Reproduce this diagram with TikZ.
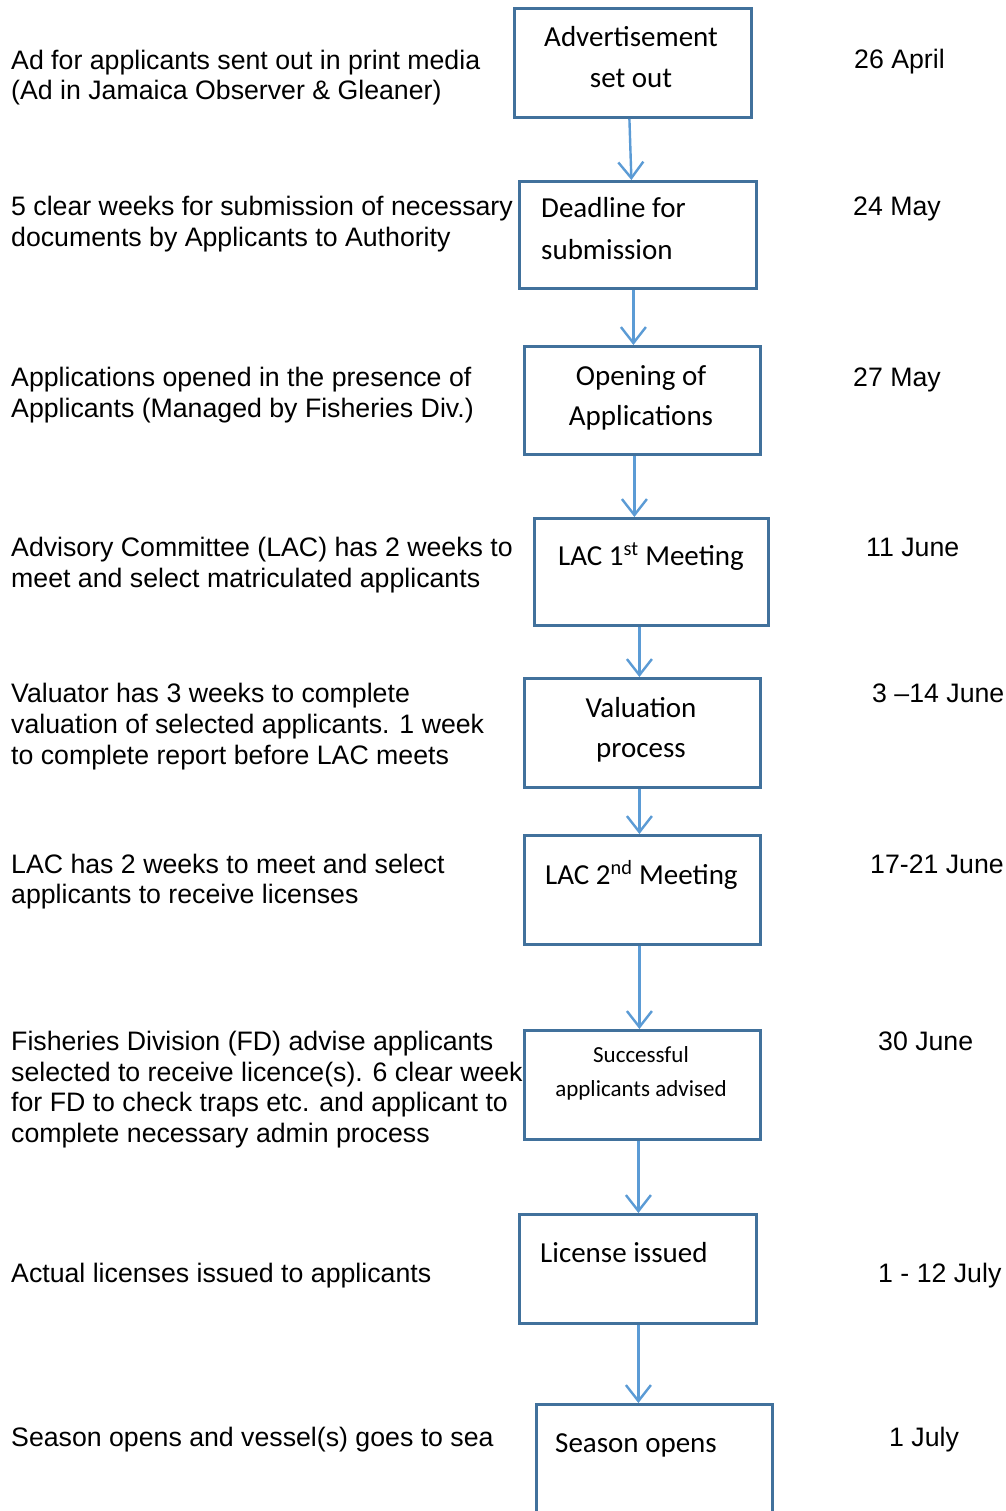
\documentclass[tikz,border=0pt]{standalone}
\usepackage{fontspec}
\setmainfont{Liberation Sans}
\newfontfamily\calibri{Carlito}
\usetikzlibrary{arrows.meta}
\definecolor{boxblue}{HTML}{41719C}
\definecolor{arrowblue}{HTML}{5B9BD5}
\begin{document}
\begin{tikzpicture}[x=1pt,y=-1pt,
  note/.style={anchor=base west,inner sep=0pt,font=\fontsize{26.7}{31}\selectfont},
  ctxt/.style={anchor=base,inner sep=0pt,font=\calibri\fontsize{29}{35}\selectfont},
  ltxt/.style={anchor=base west,inner sep=0pt,font=\calibri\fontsize{29}{35}\selectfont},
  stxt/.style={anchor=base,inner sep=0pt,font=\calibri\fontsize{23}{27}\selectfont},
  box/.style={draw=boxblue,line width=2.8pt,fill=white,inner sep=0pt,anchor=north west},
  flow/.style={draw=arrowblue,line width=2.4pt,-{Straight Barb[length=16pt,width=25pt,line width=2.4pt]}}]
\clip (0,0) rectangle (1005,1511);
\fill[white] (0,0) rectangle (1005,1511);

% left notes
\node[note] (n1a) at (11,70) {Ad for applicants sent out in print media};
\node[note] (n1b) at (11,100) {(Ad in Jamaica Observer \& Gleaner)};
\node[note] (n2a) at (11,216) {5 clear weeks for submission of necessary};
\node[note] (n2b) at (11,247) {documents by Applicants to Authority};
\node[note] (n3a) at (11,386) {Applications opened in the presence of};
\node[note] (n3b) at (11,417) {Applicants (Managed by Fisheries Div.)};
\node[note] (n4a) at (11,556) {Advisory Committee (LAC) has 2 weeks to};
\node[note] (n4b) at (11,587) {meet and select matriculated applicants};
\node[note] (n5a) at (11,702) {Valuator has 3 weeks to complete};
\node[note] (n5b) at (11,733) {valuation of selected applicants. 1 week};
\node[note] (n5c) at (11,764) {to complete report before LAC meets};
\node[note] (n6a) at (11,873) {LAC has 2 weeks to meet and select};
\node[note] (n6b) at (11,903) {applicants to receive licenses};
\node[note] (n7a) at (11,1050) {Fisheries Division (FD) advise applicants};
\node[note] (n7b) at (11,1081) {selected to receive licence(s). 6 clear weeks};
\node[note] (n7c) at (11,1111) {for FD to check traps etc. and applicant to};
\node[note] (n7d) at (11,1142) {complete necessary admin process};
\node[note] (n8a) at (11,1282) {Actual licenses issued to applicants};
\node[note] (n9a) at (11,1446) {Season opens and vessel(s) goes to sea};

% dates
\node[note] (d1) at (854,69) {26 April};
\node[note] (d2) at (853,216) {24 May};
\node[note] (d3) at (853,386) {27 May};
\node[note] (d4) at (866,556) {11 June};
\node[note] (d5) at (872,702) {3 \textendash14 June};
\node[note] (d6) at (870,873) {17-21 June};
\node[note] (d7) at (878,1050) {30 June};
\node[note] (d8) at (878,1282) {1 - 12 July};
\node[note] (d9) at (889,1446) {1 July};

% boxes
\node[box,minimum width=237pt,minimum height=109pt] (b1) at (513,7) {};
\node[box,minimum width=237pt,minimum height=107pt] (b2) at (518,180) {};
\node[box,minimum width=236pt,minimum height=108pt] (b3) at (523,345) {};
\node[box,minimum width=234pt,minimum height=107pt] (b4) at (533,517) {};
\node[box,minimum width=236pt,minimum height=109pt] (b5) at (523,677) {};
\node[box,minimum width=236pt,minimum height=109pt] (b6) at (523,834) {};
\node[box,minimum width=236pt,minimum height=109pt] (b7) at (523,1029) {};
\node[box,minimum width=237pt,minimum height=109pt] (b8) at (518,1213) {};
\node[box,minimum width=236pt,minimum height=130pt] (b9) at (535,1403) {};

% box texts
\node[ctxt] (t1a) at (631,47) {Advertisement};
\node[ctxt] (t1b) at (631,88) {set out};
\node[ltxt] (t2a) at (541,218) {Deadline for};
\node[ltxt] (t2b) at (541,260) {submission};
\node[ctxt] (t3a) at (641,385) {Opening of};
\node[ctxt] (t3b) at (641,425) {Applications};
\node[ltxt] (t4a) at (558,565) {LAC 1\textsuperscript{st} Meeting};
\node[ctxt] (t5a) at (641,717) {Valuation};
\node[ctxt] (t5b) at (641,757) {process};
\node[ltxt] (t6a) at (545,884) {LAC 2\textsuperscript{nd} Meeting};
\node[stxt] (t7a) at (641,1062) {Successful};
\node[stxt] (t7b) at (641,1096) {applicants advised};
\node[ltxt] (t8a) at (540,1262) {License issued};
\node[ltxt] (t9a) at (555,1452) {Season opens};

% connectors
\draw[flow] ([xshift=-3.5pt]b1.south) -- ([xshift=-6.5pt]b2.north);
\draw[flow] ([xshift=-4.5pt]b2.south) -- ([xshift=-9pt]b3.north);
\draw[flow] ([xshift=-8pt]b3.south) -- ([xshift=-17pt]b4.north);
\draw[flow] ([xshift=-12pt]b4.south) -- ([xshift=-3pt]b5.north);
\draw[flow] ([xshift=-3pt]b5.south) -- ([xshift=-3pt]b6.north);
\draw[flow] ([xshift=-3pt]b6.south) -- ([xshift=-3pt]b7.north);
\draw[flow] ([xshift=-4pt]b7.south) -- ([xshift=0.5pt]b8.north);
\draw[flow] ([xshift=0.5pt]b8.south) -- ([xshift=-16pt]b9.north);
\end{tikzpicture}
\end{document}
